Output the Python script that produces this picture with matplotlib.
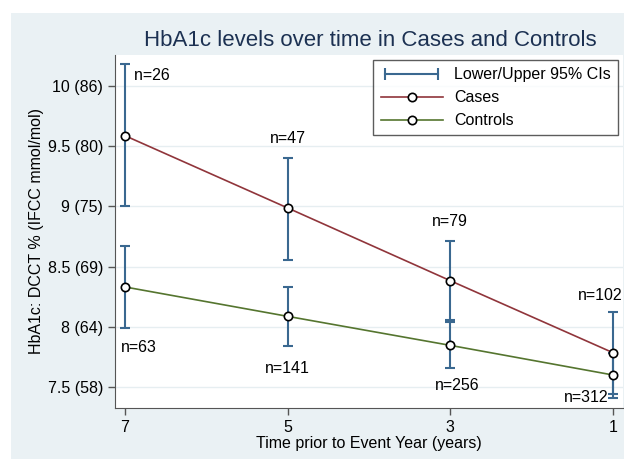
import numpy as np
import matplotlib
matplotlib.use("Agg")
import matplotlib.pyplot as plt
from matplotlib.lines import Line2D
from matplotlib.patches import Rectangle
from matplotlib.legend_handler import HandlerLine2D

plt.rcParams['font.family'] = ['Liberation Sans', 'DejaVu Sans']

# years prior to event
years = [7, 5, 3, 1]

# cases
cases_mean = [9.587, 8.987, 8.383, 7.785]
cases_lo = [9.00, 8.555, 8.04, 7.41]
cases_hi = [10.18, 9.40, 8.713, 8.123]
cases_n = ["n=26", "n=47", "n=79", "n=102"]

# controls
ctrl_mean = [8.331, 8.087, 7.846, 7.60]
ctrl_lo = [7.99, 7.84, 7.66, 7.44]
ctrl_hi = [8.671, 8.333, 8.06, 7.78]
ctrl_n = ["n=63", "n=141", "n=256", "n=312"]

yticks = [7.5, 8, 8.5, 9, 9.5, 10]
ytick_labels = ["7.5 (58)", "8 (64)", "8.5 (69)", "9 (75)", "9.5 (80)", "10 (86)"]

ci_col = "#3a6890"
case_col = "#90353b"
ctrl_col = "#55752f"
bg_col = "#eaf1f4"

W, H = 624, 459
fig = plt.figure(figsize=(W / 100, H / 100), dpi=100)
fig.patch.set_facecolor("white")
fig.patches.append(Rectangle((11 / W, 0), 1 - 11 / W, 1 - 13 / H,
                             transform=fig.transFigure, facecolor=bg_col,
                             edgecolor="none", zorder=-10))

ax = fig.add_axes([115 / W, 1 - 408 / H, (623 - 115) / W, (408 - 55) / H])
ax.set_facecolor("white")

def draw_ci(mean, lo, hi):
    err = [np.array(mean) - np.array(lo), np.array(hi) - np.array(mean)]
    ax.errorbar(years, mean, yerr=err, fmt="none", ecolor=ci_col,
                elinewidth=1.5, capsize=3.5, capthick=1.5, zorder=2)

draw_ci(cases_mean, cases_lo, cases_hi)
draw_ci(ctrl_mean, ctrl_lo, ctrl_hi)

ax.plot(years, cases_mean, color=case_col, lw=1.2, marker="o", ms=6,
        mfc="white", mec="black", mew=1.2, zorder=3)
ax.plot(years, ctrl_mean, color=ctrl_col, lw=1.2, marker="o", ms=6,
        mfc="white", mec="black", mew=1.2, zorder=3)

# n labels
fs = 11.5
ax.text(7, cases_hi[0] - 0.09, "  " + cases_n[0], ha="left", va="center", fontsize=fs)
for i in range(1, 3):
    ax.text(years[i], cases_hi[i] + 0.16, cases_n[i], ha="center", va="center", fontsize=fs)
ax.text(0.88, cases_hi[3] + 0.14, cases_n[3], ha="right", va="center", fontsize=fs)
ax.text(7.05, ctrl_lo[0] - 0.16, ctrl_n[0], ha="left", va="center", fontsize=fs)
ax.text(5, ctrl_lo[1] - 0.19, ctrl_n[1], ha="center", va="center", fontsize=fs)
ax.text(2.91, ctrl_lo[2] - 0.145, ctrl_n[2], ha="center", va="center", fontsize=fs)
ax.text(1.06, ctrl_lo[3] - 0.03, ctrl_n[3], ha="right", va="center", fontsize=fs)

ax.set_xlim(7.123, 0.877)
ax.set_ylim(7.326, 10.257)
ax.set_xticks(years)
ax.set_xticklabels([str(y) for y in years], fontsize=fs)
ax.set_yticks(yticks)
ax.set_yticklabels(ytick_labels, fontsize=fs)
ax.tick_params(colors="#555555", labelcolor="black", length=5, width=1)
ax.grid(axis="y", color="#e6eef1", lw=1)
ax.set_axisbelow(True)
for s in ["top", "right"]:
    ax.spines[s].set_visible(False)
for s in ["left", "bottom"]:
    ax.spines[s].set_color("#555555")

ax.set_xlabel("Time prior to Event Year (years)", fontsize=fs, labelpad=1)
ax.set_ylabel("HbA1c: DCCT % (IFCC mmol/mol)", fontsize=fs, labelpad=3)

fig.text(370 / W, 1 - 40 / H, "HbA1c levels over time in Cases and Controls",
         ha="center", va="center", fontsize=16, color="#1c3152")

h_ci = Line2D([0], [0], color=ci_col, lw=1.5, marker="|", ms=8, mew=1.5)
h_case = Line2D([0], [0], color=case_col, lw=1.2, marker="o", ms=6,
                mfc="white", mec="black", mew=1.2)
h_ctrl = Line2D([0], [0], color=ctrl_col, lw=1.2, marker="o", ms=6,
                mfc="white", mec="black", mew=1.2)
leg = ax.legend([h_ci, h_case, h_ctrl], ["Lower/Upper 95% CIs", "Cases", "Controls"],
                handler_map={h_ci: HandlerLine2D(numpoints=2)}, numpoints=1,
                loc="upper right", bbox_to_anchor=(618 / W, 1 - 60 / H),
                bbox_transform=fig.transFigure, borderaxespad=0, fontsize=fs,
                frameon=True, fancybox=False, edgecolor="#333333",
                handlelength=3.9, handletextpad=0.7, labelspacing=0.5,
                borderpad=0.45)
leg.get_frame().set_linewidth(1)

fig.savefig("out.png", dpi=100)
